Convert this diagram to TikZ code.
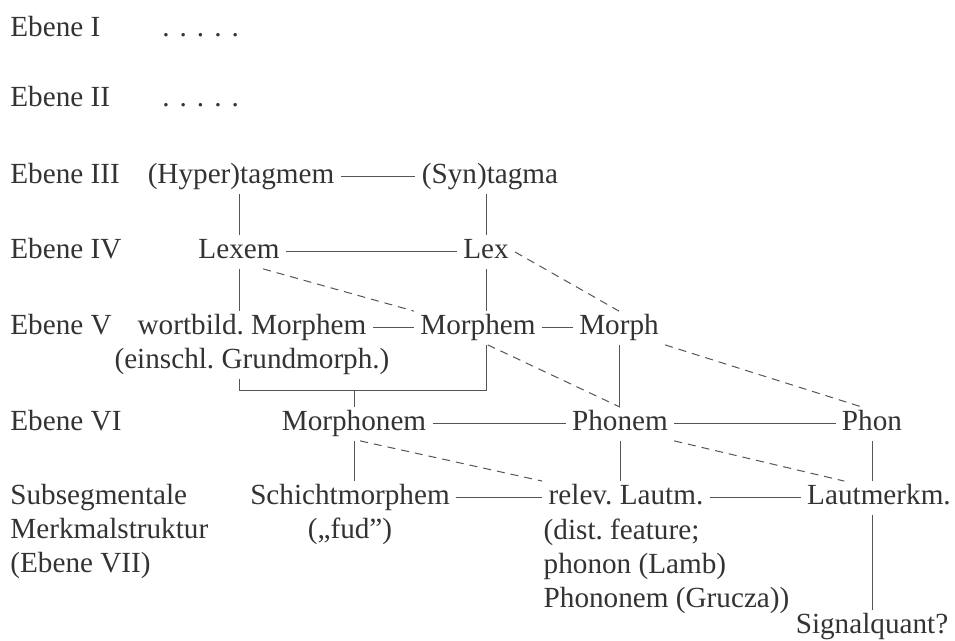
\documentclass[tikz,border=0pt]{standalone}
\usepackage{fontspec}
\setmainfont{Liberation Serif}
\usetikzlibrary{positioning,calc}
\definecolor{ink}{HTML}{333333}
\definecolor{rule}{HTML}{555555}

\begin{document}
\frenchspacing
\begin{tikzpicture}[x=0.5pt, y=-0.5pt,
  font=\fontsize{14.6}{17}\selectfont, text=ink,
  term/.style={inner xsep=3pt, inner ysep=2pt, text height=9.5pt, text depth=3pt},
  lvl/.style={term, anchor=west},
  more/.style={inner xsep=3pt, inner ysep=2pt, align=left, anchor=north west},
  link/.style={draw=rule, line width=0.5pt},
  dlink/.style={link, dash pattern=on 4pt off 3pt}]
\useasboundingbox (0,0) rectangle (955,641);
% level labels
\node[lvl] (ebI) at (4,30) {Ebene I};
\node[lvl] (ebII) at (4,100) {Ebene II};
\node[lvl] (ebIII) at (4,177) {Ebene III};
\node[lvl] (ebIV) at (4,252) {Ebene IV};
\node[lvl] (ebV) at (4,328) {Ebene V};
\node[lvl] (ebVI) at (4,424) {Ebene VI};
\node[more] (ebVII) at (4,480) {Subsegmentale\\Merkmalstruktur\\(Ebene VII)};
\node[lvl] (dotsI) at (156,30) {.\hspace{5pt}.\hspace{5pt}.\hspace{5pt}.\hspace{5pt}.};
\node[lvl] (dotsII) at (156,100) {.\hspace{5pt}.\hspace{5pt}.\hspace{5pt}.\hspace{5pt}.};
% units
\node[term] (hyper) at (241,177) {(Hyper)tagmem};
\node[term] (syntag) at (490,177) {(Syn)tagma};
\node[term] (lexem) at (239,252) {Lexem};
\node[term] (lex) at (486,252) {Lex};
\node[term] (wortb) at (252,328) {wortbild. Morphem};
\node[term, below=0pt of wortb] (einschl) {(einschl. Grundmorph.)};
\node[term] (morphem) at (478,328) {Morphem};
\node[term] (morph) at (619,328) {Morph};
\node[term] (morphon) at (354,424) {Morphonem};
\node[term] (phonem) at (620,424) {Phonem};
\node[term] (phon) at (872,424) {Phon};
\node[term] (schicht) at (350,498) {Schichtmorphem};
\node[term, below=0pt of schicht] (fud) {(„fud”)};
\node[term] (relev) at (626,498) {relev. Lautm.};
\node[more] (relevx) at ($(relev.south west)+(-5,0)$) {(dist. feature;\\phonon (Lamb)\\Phononem (Grucza))};
\node[term] (lautm) at (879,498) {Lautmerkm.};
\node[term] (signal) at (872,627) {Signalquant?};
% same level
\draw[link] (hyper) -- (syntag);
\draw[link] (lexem) -- (lex);
\draw[link] (wortb) -- (morphem);
\draw[link] (morphem) -- (morph);
\draw[link] (morphon) -- (phonem);
\draw[link] (phonem) -- (phon);
\draw[link] (schicht) -- (relev);
\draw[link] (relev) -- (lautm);
% down the levels
\draw[link] (lexem.north) -- (lexem.north |- hyper.south);
\draw[link] (lex.north) -- (lex.north |- syntag.south);
\draw[link] (lexem.south) -- (lexem.south |- wortb.north);
\draw[link] (lex.south) -- (lex.south |- morphem.north);
\coordinate (brk) at ($(morphon.north)+(0,-17)$);
\draw[link] (einschl.south -| lexem.south) |- (brk -| lex.south) -- (lex.south |- morphem.south);
\draw[link] (brk) -- (morphon.north);
\draw[link] (morph.south) -- (morph.south |- phonem.north);
\draw[link] (morphon.south) -- (morphon.south |- schicht.north);
\draw[link] (phonem.south) -- (phonem.south |- relev.north);
\draw[link] (phon.south) -- (phon.south |- lautm.north);
\draw[link] (lautm.south -| phon.south) -- (signal.north -| phon.south);
% cross links
\draw[dlink] (lexem.-35) -- (morphem.north west);
\draw[dlink] (lex.east) -- (morph.north);
\draw[dlink] (morphem.-60) -- (phonem.north);
\draw[dlink] (morph.south east) -- (phon.120);
\draw[dlink] (morphon.-70) -- (relev.north west);
\draw[dlink] (phonem.south east) -- (lautm.154);
\end{tikzpicture}
\end{document}
